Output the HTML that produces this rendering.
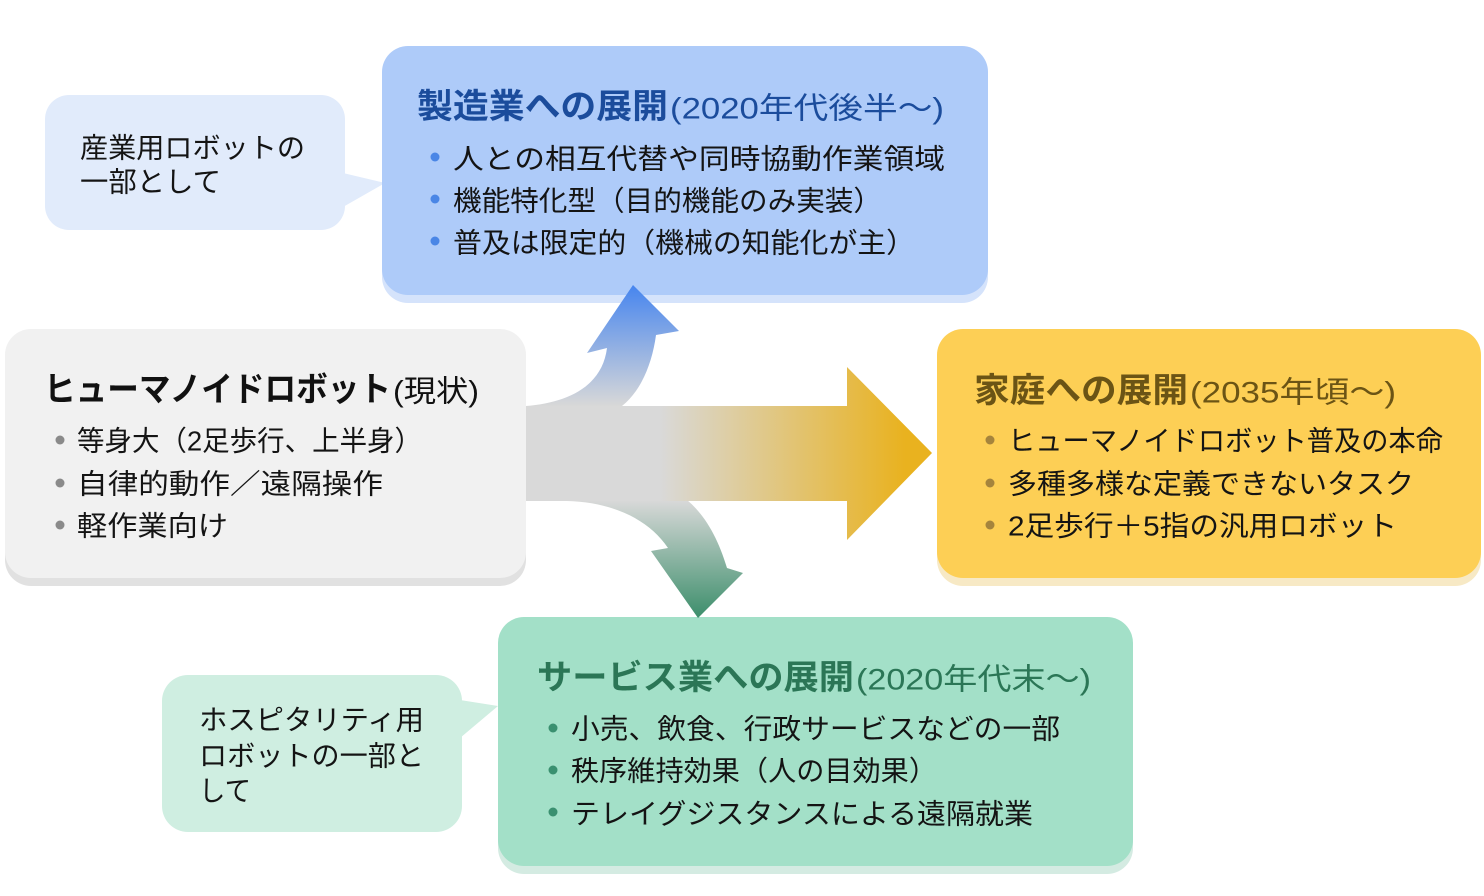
<!DOCTYPE html>
<html><head><meta charset="utf-8"><style>
html,body{margin:0;padding:0;background:#fff;}
svg{display:block;}
text{font-family:"Liberation Sans","Noto Sans CJK JP",sans-serif;dominant-baseline:central;}
.b{font-weight:bold;font-size:34px;}
.p{font-size:30px;}
.t{font-size:28px;fill:#141414;}
</style></head><body>
<svg width="1484" height="896" viewBox="0 0 1484 896" xmlns="http://www.w3.org/2000/svg">
<defs>
<linearGradient id="gMain" gradientUnits="userSpaceOnUse" x1="660" y1="0" x2="905" y2="0">
<stop offset="0" stop-color="#d9d9d9"/><stop offset="1" stop-color="#e9b21f"/>
</linearGradient>
<linearGradient id="gUp" gradientUnits="userSpaceOnUse" x1="0" y1="406" x2="0" y2="288">
<stop offset="0" stop-color="#d8d8d8"/><stop offset="1" stop-color="#4a87ee"/>
</linearGradient>
<linearGradient id="gDown" gradientUnits="userSpaceOnUse" x1="0" y1="500" x2="0" y2="618">
<stop offset="0" stop-color="#d9d9d9"/><stop offset="1" stop-color="#3c8e6b"/>
</linearGradient>
</defs>

<!-- callout 1 -->
<rect x="45" y="95" width="300" height="135" rx="24" fill="#e1ebfb"/>
<polygon points="343,173 385,183 343,207" fill="#e1ebfb"/>
<text class="t" x="80" y="148" textLength="225" lengthAdjust="spacingAndGlyphs">産業用ロボットの</text>
<text class="t" x="80" y="182" textLength="141" lengthAdjust="spacingAndGlyphs">一部として</text>

<!-- callout 2 -->
<rect x="162" y="675" width="300" height="157" rx="26" fill="#cfeee1"/>
<polygon points="460,700 498,706 460,738" fill="#cfeee1"/>
<text class="t" x="199" y="720" textLength="225" lengthAdjust="spacingAndGlyphs">ホスピタリティ用</text>
<text class="t" x="199" y="756" textLength="225" lengthAdjust="spacingAndGlyphs">ロボットの一部と</text>
<text class="t" x="199" y="791" textLength="52" lengthAdjust="spacingAndGlyphs">して</text>

<!-- blue box -->
<rect x="382" y="54" width="606" height="249" rx="26" fill="#d5e3fb"/>
<rect x="382" y="46" width="606" height="249" rx="26" fill="#aecbf9"/>
<text class="b" x="417" y="107" fill="#1b4c9c" textLength="251" lengthAdjust="spacingAndGlyphs">製造業への展開</text>
<text class="p" x="670" y="109" fill="#1b4c9c" textLength="274" lengthAdjust="spacingAndGlyphs">(2020年代後半～)</text>
<circle cx="435" cy="157" r="4.5" fill="#4a86e6"/>
<circle cx="435" cy="199" r="4.5" fill="#4a86e6"/>
<circle cx="435" cy="241" r="4.5" fill="#4a86e6"/>
<text class="t" x="453" y="159" textLength="492" lengthAdjust="spacingAndGlyphs">人との相互代替や同時協動作業領域</text>
<text class="t" x="453" y="201" textLength="429" lengthAdjust="spacingAndGlyphs">機能特化型（目的機能のみ実装）</text>
<text class="t" x="453" y="243" textLength="462" lengthAdjust="spacingAndGlyphs">普及は限定的（機械の知能化が主）</text>

<!-- gray box -->
<rect x="5" y="337" width="521" height="249" rx="26" fill="#e1e1e1"/>
<rect x="5" y="329" width="521" height="249" rx="26" fill="#f1f1f1"/>
<text class="b" x="44" y="390" fill="#111" textLength="347" lengthAdjust="spacingAndGlyphs">ヒューマノイドロボット</text>
<text class="p" x="393" y="392" fill="#111" textLength="86" lengthAdjust="spacingAndGlyphs">(現状)</text>
<circle cx="60" cy="440" r="4.5" fill="#8a8a8a"/>
<circle cx="60" cy="483" r="4.5" fill="#8a8a8a"/>
<circle cx="60" cy="525" r="4.5" fill="#8a8a8a"/>
<text class="t" x="77" y="441" textLength="345" lengthAdjust="spacingAndGlyphs">等身大（2足歩行、上半身）</text>
<text class="t" x="77" y="484" textLength="306" lengthAdjust="spacingAndGlyphs">自律的動作／遠隔操作</text>
<text class="t" x="77" y="526" textLength="151" lengthAdjust="spacingAndGlyphs">軽作業向け</text>

<!-- yellow box -->
<rect x="937" y="337" width="544" height="249" rx="26" fill="#f7e9c5"/>
<rect x="937" y="329" width="544" height="249" rx="26" fill="#fdcf55"/>
<text class="b" x="974" y="391" fill="#6b5415" textLength="214" lengthAdjust="spacingAndGlyphs">家庭への展開</text>
<text class="p" x="1190" y="393" fill="#6b5415" textLength="206" lengthAdjust="spacingAndGlyphs">(2035年頃～)</text>
<circle cx="990" cy="440" r="4.5" fill="#a5843c"/>
<circle cx="990" cy="483" r="4.5" fill="#a5843c"/>
<circle cx="990" cy="525" r="4.5" fill="#a5843c"/>
<text class="t" x="1008" y="441" textLength="435" lengthAdjust="spacingAndGlyphs">ヒューマノイドロボット普及の本命</text>
<text class="t" x="1008" y="484" textLength="406" lengthAdjust="spacingAndGlyphs">多種多様な定義できないタスク</text>
<text class="t" x="1008" y="526" textLength="389" lengthAdjust="spacingAndGlyphs">2足歩行＋5指の汎用ロボット</text>

<!-- green box -->
<rect x="498" y="625" width="635" height="249" rx="26" fill="#d4ebe2"/>
<rect x="498" y="617" width="635" height="249" rx="26" fill="#a3e0c8"/>
<text class="b" x="537" y="678" fill="#2b7656" textLength="317" lengthAdjust="spacingAndGlyphs">サービス業への展開</text>
<text class="p" x="856" y="680" fill="#2b7656" textLength="235" lengthAdjust="spacingAndGlyphs">(2020年代末～)</text>
<circle cx="553" cy="728" r="4.5" fill="#3a9070"/>
<circle cx="553" cy="770" r="4.5" fill="#3a9070"/>
<circle cx="553" cy="812" r="4.5" fill="#3a9070"/>
<text class="t" x="571" y="729" textLength="489" lengthAdjust="spacingAndGlyphs">小売、飲食、行政サービスなどの一部</text>
<text class="t" x="571" y="771" textLength="366" lengthAdjust="spacingAndGlyphs">秩序維持効果（人の目効果）</text>
<text class="t" x="571" y="814" textLength="462" lengthAdjust="spacingAndGlyphs">テレイグジスタンスによる遠隔就業</text>

<!-- arrows -->
<path d="M526 406 C565 403, 602 388, 607 348 L587 353 L633 285 L679 331 L656 335 C652 365, 640 392, 622 406 Z" fill="url(#gUp)"/>
<path d="M567 501 C610 502, 648 518, 668 548 L651 551 L698 618 L743 573 L727 568 C718 538, 705 515, 687 500 Z" fill="url(#gDown)"/>
<polygon points="526,406 847,406 847,367 932,453 847,540 847,501 526,501" fill="url(#gMain)"/>
</svg>
</body></html>
